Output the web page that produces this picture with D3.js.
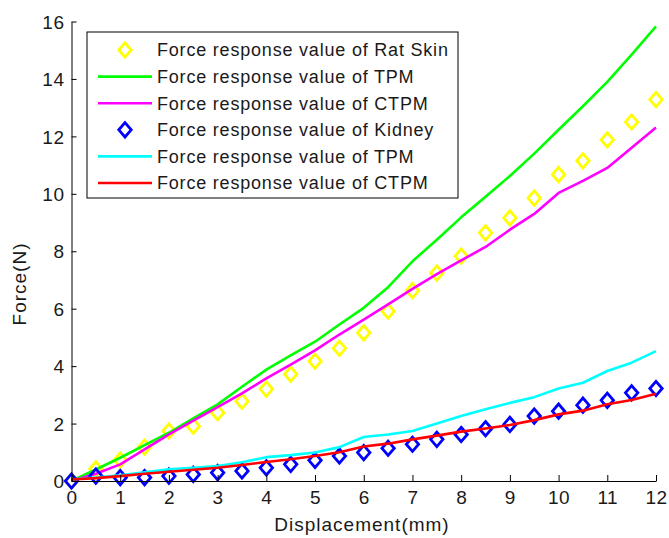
<!DOCTYPE html>
<html>
<head>
<meta charset="utf-8">
<script src="https://cdn.jsdelivr.net/npm/d3@7"></script>
<style>
  html, body { margin: 0; padding: 0; background: #fff; }
  svg { display: block; font-family: "Liberation Sans", Arial, sans-serif; }
</style>
</head>
<body>
<svg id="chart" width="669" height="538"></svg>
<script>
// ---- data ----
const displacement = [0,0.5,1,1.5,2,2.5,3,3.5,4,4.5,5,5.5,6,6.5,7,7.5,8,8.5,9,9.5,10,10.5,11,11.5,12];
const ratSkin   = [0,0.42,0.73,1.18,1.74,1.91,2.38,2.78,3.2,3.72,4.17,4.62,5.16,5.91,6.63,7.24,7.83,8.64,9.16,9.85,10.67,11.15,11.88,12.5,13.28];
const skinTPM   = [0,0.4,0.81,1.25,1.68,2.18,2.67,3.28,3.88,4.37,4.85,5.45,6.03,6.75,7.65,8.4,9.18,9.9,10.62,11.4,12.23,13.05,13.9,14.85,15.83];
const skinCTPM  = [0,0.25,0.58,1.1,1.62,2.1,2.57,3.05,3.57,4.05,4.55,5.1,5.62,6.15,6.69,7.2,7.68,8.15,8.75,9.3,10.03,10.45,10.9,11.6,12.31];
const kidney    = [0,0.17,0.12,0.12,0.17,0.23,0.29,0.35,0.46,0.58,0.72,0.87,0.99,1.14,1.28,1.45,1.62,1.82,1.97,2.26,2.43,2.64,2.81,3.07,3.22];
const kidneyTPM = [0.05,0.12,0.2,0.3,0.41,0.46,0.52,0.65,0.83,0.9,0.99,1.18,1.53,1.62,1.74,2.0,2.26,2.5,2.72,2.92,3.22,3.42,3.83,4.12,4.52];
const kidneyCTPM= [0.05,0.1,0.17,0.25,0.32,0.39,0.46,0.56,0.66,0.76,0.87,1.0,1.2,1.3,1.45,1.58,1.72,1.83,1.95,2.12,2.32,2.45,2.67,2.82,3.04];
const xTicks = [0,1,2,3,4,5,6,7,8,9,10,11,12];
const yTicks = [0,2,4,6,8,10,12,14,16];
const legendLabels = [
  "Force response value of Rat Skin",
  "Force response value of TPM",
  "Force response value of CTPM",
  "Force response value of Kidney",
  "Force response value of TPM",
  "Force response value of CTPM"
];

const seriesList = [
  {values: ratSkin,    type: "marker", color: "#ffff00"},
  {values: skinTPM,    type: "line",   color: "#00ff00"},
  {values: skinCTPM,   type: "line",   color: "#ff00ff"},
  {values: kidney,     type: "marker", color: "#0000ff"},
  {values: kidneyTPM,  type: "line",   color: "#00ffff"},
  {values: kidneyCTPM, type: "line",   color: "#ff0000"}
];

// ---- layout ----
const svg = d3.select("#chart");
const x = d3.scaleLinear().domain([0, 12]).range([71.5, 656]);
const y = d3.scaleLinear().domain([0, 16]).range([481, 21.5]);
const textColor = "#1a1a1a";

function diamondPath(cx, cy) {
  const w = 6.2, h = 7.2;
  return `M${cx},${cy-h}L${cx+w},${cy}L${cx},${cy+h}L${cx-w},${cy}Z`;
}

const plot = svg.append("g");
const line = d3.line().x((d, i) => x(displacement[i])).y(d => y(d));

seriesList.forEach(s => {
  if (s.type === "line") {
    plot.append("path")
      .datum(s.values)
      .attr("d", line)
      .attr("fill", "none")
      .attr("stroke", s.color)
      .attr("stroke-width", 2.6)
      .attr("stroke-linejoin", "round");
  } else {
    plot.selectAll(null)
      .data(s.values)
      .enter().append("path")
      .attr("d", (d, i) => diamondPath(x(displacement[i]), y(d)))
      .attr("fill", "none")
      .attr("stroke", s.color)
      .attr("stroke-width", 2.8);
  }
});

// ---- axes ----
const xAxis = svg.append("g")
  .attr("transform", `translate(0,${y(0)})`)
  .call(d3.axisBottom(x).tickValues(xTicks).tickFormat(d3.format("d")).tickSizeInner(-6).tickSizeOuter(0));
xAxis.selectAll("text")
  .attr("y", 16).attr("dy", "0.35em")
  .attr("font-size", 19).attr("letter-spacing", 0.5)
  .attr("fill", textColor)
  .style("font-family", "'Liberation Sans', Arial, sans-serif");

const yAxis = svg.append("g")
  .attr("transform", `translate(${x(0)},0)`)
  .call(d3.axisLeft(y).tickValues(yTicks).tickFormat(d3.format("d")).tickSizeInner(-5).tickSizeOuter(0).tickPadding(7));
yAxis.selectAll("text")
  .attr("dy", "0.35em")
  .attr("font-size", 19).attr("letter-spacing", 0.5)
  .attr("fill", textColor)
  .style("font-family", "'Liberation Sans', Arial, sans-serif");

[xAxis, yAxis].forEach(a => {
  a.select(".domain").attr("stroke", "#000").attr("stroke-width", 1);
  a.selectAll(".tick line").attr("stroke", "#000");
});

// axis labels
svg.append("text")
  .attr("x", 362).attr("y", 524)
  .attr("dy", "0.35em")
  .attr("text-anchor", "middle")
  .attr("font-size", 19).attr("letter-spacing", 1)
  .attr("fill", textColor)
  .text("Displacement(mm)");

svg.append("text")
  .attr("transform", "translate(19,284) rotate(-90)")
  .attr("dy", "0.35em")
  .attr("text-anchor", "middle")
  .attr("font-size", 19).attr("letter-spacing", 1)
  .attr("fill", textColor)
  .text("Force(N)");

// ---- legend ----
const legend = svg.append("g");
legend.append("rect")
  .attr("x", 87).attr("y", 32).attr("width", 371).attr("height", 166)
  .attr("fill", "#fff").attr("stroke", "#000").attr("stroke-width", 1);

const rowY = i => 50 + i * 26.6;
seriesList.forEach((s, i) => {
  const cy = rowY(i);
  if (s.type === "line") {
    legend.append("line")
      .attr("x1", 98).attr("x2", 152).attr("y1", cy).attr("y2", cy)
      .attr("stroke", s.color).attr("stroke-width", 2.6);
  } else {
    legend.append("path")
      .attr("d", diamondPath(125, cy))
      .attr("fill", "none").attr("stroke", s.color).attr("stroke-width", 2.8);
  }
  legend.append("text")
    .attr("x", 157).attr("y", cy).attr("dy", "0.35em")
    .attr("font-size", 18).attr("letter-spacing", 0.8)
    .attr("fill", textColor)
    .text(legendLabels[i]);
});
</script>
</body>
</html>
